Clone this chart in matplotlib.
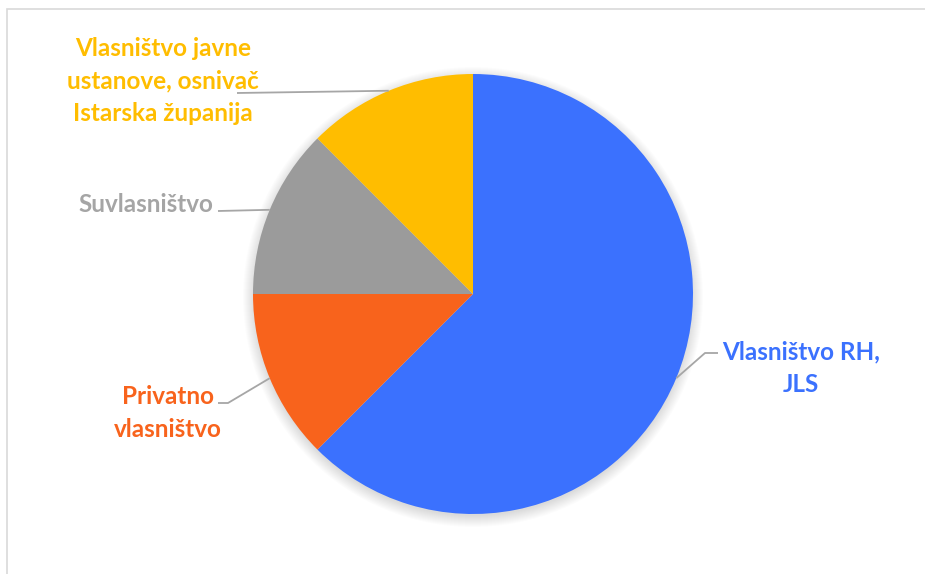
import matplotlib
matplotlib.use("Agg")
import matplotlib.pyplot as plt
from matplotlib.patches import Circle, Rectangle
import numpy as np

categories = ["Vlasništvo RH,\nJLS", "Privatno\nvlasništvo", "Suvlasništvo",
              "Vlasništvo javne\nustanove, osnivač\nIstarska županija"]
values = [5, 1, 1, 1]
colors = ["#3B71FE", "#F8631C", "#9B9B9B", "#FFBD00"]
text_colors = ["#3B71FE", "#F8631C", "#A5A5A5", "#FFBD00"]

W, H = 925, 574
fig = plt.figure(figsize=(W / 100, H / 100), dpi=100)
ax = fig.add_axes([0, 0, 1, 1])
ax.set_xlim(0, W)
ax.set_ylim(0, H)
ax.axis("off")

# frame
ax.add_patch(Rectangle((7, -20), W + 50, H - 9 + 20, fill=False,
                       edgecolor="#D9D9D9", lw=1.2))

cx, cy, r = 473, H - 294, 220

# soft shadow
for i in range(12):
    ax.add_patch(Circle((cx, cy - 3), r + 10 - i, color="black",
                        alpha=0.012, lw=0, zorder=1))

wedges, _ = ax.pie(values, colors=colors, startangle=90, counterclock=False,
                   center=(cx, cy), radius=r, frame=True,
                   wedgeprops=dict(linewidth=0, zorder=2))
ax.set_xlim(0, W)
ax.set_ylim(0, H)
ax.set_aspect("equal")
ax.axis("off")

font = dict(family=["Lato", "DejaVu Sans"], fontweight="bold", fontsize=17.5)

# label positions (pixel coords from top) and leader lines
label_pos = [(801, 368, "center"), (168, 413, "center"), (213, 204, "right"),
             (163, 81, "center")]
elbows = [[(718, 353), (705, 353)], [(218, 403), (228, 403)],
          [(218, 211)], [(237, 93)]]

angles = []
total = sum(values)
start = 90
for v in values:
    span = 360 * v / total
    angles.append(np.deg2rad(start - span / 2))
    start -= span

for (x, y, ha), el, ang, lab, tc in zip(label_pos, elbows, angles, categories, text_colors):
    ex, ey = cx + r * np.cos(ang), cy + r * np.sin(ang)
    xs = [p[0] for p in el] + [ex]
    ys = [H - p[1] for p in el] + [ey]
    ax.plot(xs, ys, color="#A6A6A6", lw=1.3, zorder=3, solid_capstyle="butt")
    ax.text(x, H - y, lab, ha=ha, va="center", color=tc, linespacing=1.5,
            zorder=4, **font)

fig.savefig("out.png", dpi=100, facecolor="white")
